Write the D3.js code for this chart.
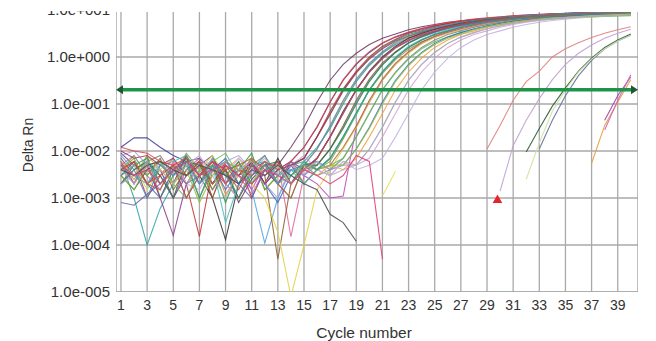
<!DOCTYPE html>
<html>
<head>
<meta charset="utf-8">
<script src="https://cdn.jsdelivr.net/npm/d3@7/dist/d3.min.js"></script>
<style>
  html, body { margin: 0; padding: 0; background: #fff; }
  svg { display: block; font-family: "Liberation Sans", Arial, sans-serif; }
</style>
</head>
<body>
<div id="chart"></div>
<script>
// amplification plot, Delta Rn vs cycle (log scale)
const cycles = [1, 2, 3, 4, 5, 6, 7, 8, 9, 10, 11, 12, 13, 14, 15, 16, 17, 18, 19, 20,
  21, 22, 23, 24, 25, 26, 27, 28, 29, 30, 31, 32, 33, 34, 35, 36, 37, 38, 39, 40];

const xTickValues = [1, 3, 5, 7, 9, 11, 13, 15, 17, 19, 21, 23, 25, 27, 29, 31, 33, 35, 37, 39];
const yTickValues = [1e-5, 1e-4, 1e-3, 1e-2, 1e-1, 1, 10];
const yTickLabels = ['1.0e-005', '1.0e-004', '1.0e-003', '1.0e-002', '1.0e-001', '1.0e+000', '1.0e+001'];

const threshold = 0.2;

// wells with a full run (cycle 1..40)
const wellValues = [
  [9e-3, 5e-3, 2e-3, 4e-3, 1e-3, 3e-3, 6e-3, 1.5e-3, 4e-3, 8e-4, 2.5e-3, 5e-3, .005, .012, .032, .11, .32, .7, 1.2, 1.85, 2.5, 3.1, 3.8, 4.4, 4.9, 5.5, 5.9, 6.3, 6.6, 6.9, 7.2, 7.4, 7.6, 7.8, 8.0, 8.1, 8.2, 8.3, 8.4, 8.5],
  [1.2e-2, 1.9e-2, 1.9e-2, 1.2e-2, 8e-3, 6e-3, 7e-3, 4e-3, 6e-3, 3e-3, 5e-3, 2e-3, 4e-3, .006, .012, .032, .11, .32, .7, 1.25, 1.95, 2.65, 3.3, 4.0, 4.6, 5.2, 5.75, 6.2, 6.6, 6.95, 7.25, 7.55, 7.8, 8.0, 8.2, 8.4, 8.55, 8.65, 8.75, 8.85],
  [6e-3, 2e-3, 8e-3, 1e-3, 3e-3, 7e-3, 2e-3, 5e-3, 8e-4, 4e-3, 9e-3, 1.5e-3, 3e-3, 5e-3, .007, .02, .063, .2, .48, .95, 1.6, 2.3, 3.0, 3.6, 4.3, 4.9, 5.5, 6.0, 6.4, 6.8, 7.1, 7.4, 7.7, 7.9, 8.1, 8.3, 8.5, 8.6, 8.7, 8.8],
  [3e-3, 6e-3, 1e-3, 3e-3, 7e-3, 2e-3, 1.5e-4, 4e-3, 2e-3, 6e-3, 1e-3, 4e-3, 2e-3, 5e-3, .007, .02, .07, .21, .5, 1.0, 1.7, 2.4, 3.2, 3.8, 4.5, 5.2, 5.8, 6.3, 6.7, 7.1, 7.5, 7.8, 8.1, 8.3, 8.5, 8.7, 8.9, 9.0, 9.1, 9.2],
  [5e-3, 2.5e-3, 6e-3, 1e-3, 4e-3, 8e-3, 2e-3, 6e-3, 1.2e-3, 3e-3, 7e-3, 2e-3, 5e-3, 3e-3, .005, .011, .032, .11, .32, .7, 1.25, 1.95, 2.65, 3.3, 4.0, 4.6, 5.2, 5.75, 6.2, 6.6, 6.95, 7.25, 7.55, 7.8, 8.0, 8.2, 8.4, 8.55, 8.65, 8.75],
  [6e-3, 1e-3, 1e-4, 6e-4, 2e-3, 5e-3, 2e-3, 7e-3, 3e-3, 1e-3, 4e-3, 8e-3, 3e-3, 5e-3, .006, .012, .03, .1, .3, .66, 1.2, 1.85, 2.5, 3.1, 3.8, 4.4, 4.9, 5.5, 5.9, 6.3, 6.6, 6.9, 7.2, 7.4, 7.6, 7.8, 8.0, 8.1, 8.2, 8.3],
  [5e-3, 8e-3, 3e-3, 1.5e-3, 6e-3, 2e-3, 5e-3, 1e-3, 6e-3, 3e-3, 1.2e-3, 4e-3, 6e-3, 1.5e-4, 3e-3, .007, .02, .063, .2, .48, .95, 1.6, 2.3, 3.0, 3.6, 4.3, 4.9, 5.5, 6.0, 6.4, 6.8, 7.1, 7.4, 7.7, 7.9, 8.1, 8.3, 8.5, 8.6, 8.7],
  [3e-3, 1.5e-3, 4e-3, 6e-3, 2e-3, 8e-3, 3e-3, 1e-3, 1.3e-4, 2e-3, 6e-3, 2e-3, 7e-3, 2e-3, 4e-3, .007, .02, .07, .2, .5, 1.0, 1.7, 2.5, 3.2, 3.9, 4.6, 5.3, 5.9, 6.4, 6.9, 7.3, 7.6, 7.9, 8.2, 8.4, 8.6, 8.8, 9.0, 9.1, 9.2],
  [8e-3, 4e-3, 6e-3, 2e-3, 5e-3, 1e-3, 3e-3, 7e-3, 2e-3, 5e-3, 1.5e-3, 1.1e-4, 1e-3, 4e-3, 3e-3, .005, .011, .032, .11, .32, .7, 1.25, 1.95, 2.65, 3.3, 4.0, 4.6, 5.2, 5.75, 6.2, 6.6, 6.95, 7.25, 7.55, 7.8, 8.0, 8.2, 8.4, 8.55, 8.65],
  [2e-3, 5e-3, 3e-3, 7e-3, 1.5e-3, 4e-3, 6e-3, 1e-3, 5e-3, 2e-3, 6e-3, 3e-3, 5e-5, 2e-3, 4e-3, .005, .011, .035, .12, .34, .75, 1.3, 2.0, 2.7, 3.4, 4.1, 4.8, 5.4, 5.9, 6.4, 6.8, 7.2, 7.5, 7.8, 8.1, 8.3, 8.5, 8.7, 8.8, 8.9],
  [7e-3, 3e-3, 5e-3, 1e-3, 1.6e-4, 2e-3, 5e-3, 8e-3, 2e-3, 1e-3, 4e-3, 6e-3, 2e-3, 5e-3, 2e-3, 4e-3, .007, .02, .063, .2, .48, .95, 1.6, 2.3, 3.0, 3.6, 4.3, 4.9, 5.5, 6.0, 6.4, 6.8, 7.1, 7.4, 7.7, 7.9, 8.1, 8.3, 8.5, 8.6],
  [4e-3, 7e-3, 2e-3, 5e-3, 3e-3, 9e-3, 4e-3, 1.5e-3, 5e-3, 3e-3, 7e-3, 1.5e-3, 3e-3, 6e-3, 2e-3, 4e-3, .006, .018, .06, .2, .45, .88, 1.45, 2.1, 2.7, 3.3, 3.9, 4.4, 5.0, 5.4, 5.8, 6.1, 6.4, 6.7, 6.9, 7.1, 7.3, 7.5, 7.6, 7.7],
  [6e-3, 2e-3, 5e-3, 3e-3, 1e-3, 4e-3, 7e-3, 2e-3, 6e-3, 4e-3, 1.5e-3, 5e-3, 3e-3, 6e-3, 3e-3, 2e-3, .001, .0011, .032, .11, .32, .7, 1.25, 1.95, 2.65, 3.3, 4.0, 4.6, 5.2, 5.75, 6.2, 6.6, 6.95, 7.25, 7.55, 7.8, 8.0, 8.2, 8.4, 8.55],
  [3e-3, 5e-3, 1.5e-3, 4e-3, 7e-3, 2e-3, 4e-3, 8e-3, 3e-3, 5e-3, 2e-3, 1e-3, 1.9e-4, 8e-6, 1e-4, 1.5e-3, .004, .011, .032, .11, .32, .7, 1.2, 1.9, 2.6, 3.2, 3.8, 4.4, 5.0, 5.5, 5.9, 6.3, 6.6, 6.9, 7.2, 7.4, 7.6, 7.8, 8.0, 8.1],
  [5e-3, 2e-3, 6e-3, 8e-3, 3e-3, 5e-3, 1e-3, 4e-3, 7e-3, 2e-3, 5e-3, 8e-3, 2e-3, 1e-3, 5e-3, 3e-3, 4e-3, .007, .02, .063, .2, .48, .95, 1.6, 2.3, 3.0, 3.6, 4.3, 4.9, 5.5, 6.0, 6.4, 6.8, 7.1, 7.4, 7.7, 7.9, 8.1, 8.3, 8.5],
  [4e-3, 8e-3, 3e-3, 6e-3, 2e-3, 1e-3, 4e-3, 6e-3, 9e-3, 3e-3, 2e-3, 6e-3, 4e-3, 2e-3, 6e-3, 4e-3, 5e-3, .007, .02, .065, .2, .46, .9, 1.5, 2.1, 2.7, 3.3, 3.9, 4.4, 4.9, 5.3, 5.7, 6.1, 6.4, 6.7, 6.9, 7.1, 7.3, 7.5, 7.6],
  [3e-3, 6e-3, 2e-3, 1e-3, 4e-3, 7e-3, 3e-3, 5e-3, 1.5e-3, 4e-3, 6e-3, 2e-3, 8e-4, 3e-3, 5e-3, 6e-3, 4e-3, .005, .011, .032, .11, .32, .7, 1.25, 1.95, 2.65, 3.3, 4.0, 4.6, 5.2, 5.75, 6.2, 6.6, 6.95, 7.25, 7.55, 7.8, 8.0, 8.2, 8.4],
  [6e-3, 3e-3, 8e-3, 4e-3, 2e-3, 6e-3, 5e-3, 2e-3, 4e-3, 7e-3, 3e-3, 5e-3, 2e-3, 6e-3, 4e-3, 3e-3, 5e-3, 4e-3, .007, .02, .063, .2, .48, .95, 1.6, 2.3, 3.0, 3.6, 4.3, 4.9, 5.5, 6.0, 6.4, 6.8, 7.1, 7.4, 7.7, 7.9, 8.1, 8.3],
  [8e-3, 1e-2, 5e-3, 6e-3, 3e-3, 5e-3, 2e-3, 4e-3, 6e-3, 8e-3, 4e-3, 2e-3, 1e-3, 5e-3, 3e-3, 6e-3, 4e-3, 5e-3, .005, .011, .032, .11, .32, .7, 1.25, 1.95, 2.65, 3.3, 4.0, 4.6, 5.2, 5.75, 6.2, 6.6, 6.95, 7.25, 7.55, 7.8, 8.0, 8.2],
  [4e-3, 2e-3, 5e-3, 3e-3, 7e-3, 2e-3, 5e-3, 6e-3, 2e-3, 1e-3, 4e-3, 7e-3, 3e-3, 5e-3, 8e-3, 4e-3, 3e-3, 6e-3, 5e-3, .007, .02, .063, .2, .48, .95, 1.6, 2.3, 3.0, 3.6, 4.3, 4.9, 5.5, 6.0, 6.4, 6.8, 7.1, 7.4, 7.7, 7.9, 8.1],
  [3e-3, 5e-3, 2e-3, 6e-3, 4e-3, 2e-3, 1.5e-3, 5e-3, 3e-3, 7e-3, 4e-3, 2e-3, 5e-3, 2e-3, 6e-3, 4e-3, 3e-3, 6e-3, 4e-3, 5e-3, .007, .02, .063, .2, .48, .95, 1.6, 2.3, 3.0, 3.6, 4.3, 4.9, 5.5, 6.0, 6.4, 6.8, 7.1, 7.4, 7.7, 7.9],
  [1e-2, 7e-3, 8e-3, 5e-3, 7e-3, 3e-3, 6e-3, 2e-3, 5e-3, 3e-3, 6e-3, 2e-3, 4e-3, 5e-3, .007, .02, .06, .19, .46, .9, 1.5, 2.2, 2.8, 3.4, 4.0, 4.6, 5.1, 5.6, 6.0, 6.4, 6.7, 7.0, 7.3, 7.5, 7.7, 7.9, 8.1, 8.2, 8.3, 8.4],
  [2e-3, 4e-3, 6e-3, 3e-3, 1e-3, 6e-3, 5e-3, 2e-3, 4e-3, 1e-3, 3e-3, 5e-3, 6e-3, 2e-3, 5e-3, .005, .011, .03, .1, .3, .68, 1.25, 2.0, 2.8, 3.5, 4.3, 5.0, 5.6, 6.2, 6.7, 7.1, 7.5, 7.8, 8.1, 8.4, 8.6, 8.8, 9.0, 9.1, 9.2],
  [5e-3, 3e-3, 2e-3, 5e-3, 6e-3, 8e-3, 3e-3, 5e-3, 3e-4, 2e-3, 5e-3, 6e-3, 3e-3, 4e-3, 2e-3, 4e-3, .007, .02, .06, .2, .5, 1.0, 1.7, 2.4, 3.1, 3.8, 4.5, 5.1, 5.7, 6.2, 6.7, 7.1, 7.4, 7.7, 8.0, 8.2, 8.4, 8.6, 8.7, 8.8],
  [4e-3, 6e-3, 2e-3, 1.5e-3, 5e-3, 3e-3, 6e-3, 2e-3, 4e-3, 5e-3, 7e-3, 4e-3, 2e-3, 1e-3, 5e-3, 4e-3, .005, .012, .034, .12, .34, .74, 1.3, 2.05, 2.8, 3.5, 4.2, 4.8, 5.5, 6.0, 6.5, 6.9, 7.3, 7.6, 7.9, 8.2, 8.4, 8.6, 8.8, 9.0],
  [8e-4, 7e-4, 1.2e-3, 2e-3, 4e-3, 2e-3, 3e-3, 6e-3, 3e-3, 2e-3, 1e-3, 4e-3, 2e-3, 6e-3, 4e-3, .007, .02, .063, .2, .47, .92, 1.55, 2.2, 2.9, 3.5, 4.1, 4.7, 5.2, 5.7, 6.1, 6.5, 6.8, 7.1, 7.3, 7.5, 7.7, 7.9, 8.0, 8.1, 8.2],
  [3e-3, 1.5e-3, 5e-3, 6e-3, 2e-3, 4e-3, 8e-4, 3e-3, 6e-3, 4e-3, 2e-3, 5e-3, 2e-3, 3e-3, 5e-3, 4e-3, 5e-3, .005, .011, .03, .1, .3, .66, 1.2, 1.85, 2.5, 3.1, 3.8, 4.4, 4.9, 5.5, 5.9, 6.3, 6.6, 6.9, 7.2, 7.4, 7.6, 7.8, 8.0],
  [1.2e-2, 1e-2, 9e-3, 6e-3, 5e-3, 7e-3, 3e-3, 6e-3, 2e-3, 4e-3, 3e-3, 6e-3, 4e-3, .006, .012, .033, .11, .33, .72, 1.3, 2.0, 2.7, 3.4, 4.1, 4.8, 5.4, 5.9, 6.4, 6.8, 7.2, 7.5, 7.8, 8.0, 8.2, 8.4, 8.6, 8.7, 8.8, 8.9, 9.0],
  [2e-3, 4e-3, 1e-3, 5e-3, 3e-3, 6e-3, 2e-3, 4e-3, 7e-3, 2e-3, 3e-3, 5e-3, 2e-3, 4e-3, .005, .011, .035, .12, .34, .74, 1.3, 2.05, 2.8, 3.5, 4.2, 4.8, 5.5, 6.0, 6.5, 6.9, 7.3, 7.6, 7.9, 8.2, 8.4, 8.6, 8.8, 9.0, 9.1, 9.2],
  [4e-3, 6e-3, 2e-3, 3e-3, 5e-3, 1e-3, 3e-3, 6e-3, 4e-3, 1.5e-3, 5e-3, 3e-3, 6e-3, 2e-3, 4e-3, .007, .02, .065, .2, .48, .95, 1.6, 2.3, 3.0, 3.6, 4.3, 4.9, 5.5, 6.0, 6.4, 6.8, 7.1, 7.4, 7.7, 7.9, 8.1, 8.3, 8.5, 8.6, 8.7],
  [3e-3, 5e-3, 7e-3, 2e-3, 4e-3, 6e-3, 1e-3, 5e-3, 3e-3, 6e-3, 2e-3, 4e-3, 5e-3, 3e-3, 6e-3, 4e-3, .007, .02, .065, .2, .48, .95, 1.6, 2.3, 3.0, 3.6, 4.3, 4.9, 5.5, 6.0, 6.4, 6.8, 7.1, 7.4, 7.7, 7.9, 8.1, 8.3, 8.5, 8.6],
  [2e-3, 3e-3, 6e-3, 4e-3, 2e-3, 5e-3, 8e-3, 3e-3, 1e-3, 4e-3, 6e-3, 3e-3, 5e-3, 2e-3, 4e-3, 6e-3, 3e-3, 4e-3, .005, .011, .032, .11, .32, .7, 1.25, 1.95, 2.65, 3.3, 4.0, 4.6, 5.2, 5.75, 6.2, 6.6, 6.95, 7.25, 7.55, 7.8, 8.0, 8.2]
];
const wellColors = ['#6b2f5f', '#3a3a9a', '#2a9a4a', '#c03030', '#e08a2a', '#2aa0a0', '#e060a0',
  '#303030', '#50a0e0', '#8a5a2a', '#8a3a8a', '#8a9a3a', '#c040c0', '#e0d040', '#808080',
  '#60c060', '#3a6ac0', '#f0a040', '#a0a0e0', '#d0a0d0', '#c0b0e0', '#a03060', '#2a7a3a',
  '#40c0c0', '#b06030', '#6060b0', '#90c040', '#e04040', '#4a8ac0', '#d04040', '#30a070',
  '#b0b0b0'];

// wells only drawn over part of the run (values missing elsewhere)
const partialStarts = [1, 1, 21, 29, 30, 32, 33, 32, 37, 38, 38];
const partialValues = [
  [4e-3, 3e-3, 5e-3, 6e-3, 4e-3, 3e-3, 5e-3, 4e-3, 3e-3, 2e-3, 4e-3, 3e-3, 5e-3, 3e-3, 2e-3, 1.5e-3, 4.5e-4, 3e-4, 1.2e-4],
  [5e-3, 3e-3, 4e-3, 2e-3, 4e-3, 6e-3, 3e-3, 4e-3, 5e-3, 3e-3, 2e-3, 4e-3, 3e-3, 2e-3, 4e-3, 3e-3, 2e-3, 3e-3, 8e-3, 6e-3, 5e-5],
  [1.1e-3, 3.7e-3],
  [.011, .035, .12, .3, .5, 1.0, 1.5, 2.0, 2.6, 3.2, 3.8, 4.4],
  [1.4e-3, .013, .045, .13, .33, .7, 1.2, 1.8, 2.5, 3.2, 3.9],
  [.0095, .03, .09, .22, .5, .95, 1.6, 2.3, 3.1],
  [.011, .045, .15, .4, .85, 1.5, 2.2, 2.9],
  [.0025, .015, .07, .2, .48, .9, 1.5, 2.2, 2.9],
  [.0055, .035, .11, .33],
  [.045, .15, .38],
  [.028, .12, .42]
];
const partialColors = ['#505050', '#e04080', '#e8e060', '#e08080', '#c0a0d0', '#2a5a3a',
  '#6070a0', '#d0e0a0', '#e0a040', '#a040a0', '#d060c0'];

const markerCycles = [29.8];
const markerValues = [9e-4];

const width = 656;
const height = 341;
const plot = { left: 116, right: 638, top: 10, bottom: 292 };

const svg = d3.select('#chart')
  .append('svg')
  .attr('width', width)
  .attr('height', height);

const defs = svg.append('defs');
defs.append('clipPath').attr('id', 'crop')
  .append('rect').attr('x', 0).attr('y', 11).attr('width', width).attr('height', height - 11);
defs.append('clipPath').attr('id', 'plotArea')
  .append('rect')
  .attr('x', plot.left).attr('y', 12)
  .attr('width', plot.right - plot.left).attr('height', plot.bottom - 12);

const root = svg.append('g').attr('clip-path', 'url(#crop)');

const x = d3.scaleLinear().domain([0.62, 40.55]).range([plot.left, plot.right]);
const y = d3.scaleLog().domain([1e-5, 10]).range([plot.bottom, plot.top]);

// grid
const grid = root.append('g').attr('clip-path', 'url(#plotArea)');
grid.selectAll('line.v')
  .data(xTickValues)
  .enter()
  .append('line')
  .attr('x1', (d) => x(d)).attr('x2', (d) => x(d))
  .attr('y1', plot.top).attr('y2', plot.bottom)
  .attr('stroke', '#a9a9a9').attr('stroke-width', 1.3);
grid.selectAll('line.h')
  .data(yTickValues)
  .enter()
  .append('line')
  .attr('x1', plot.left).attr('x2', plot.right)
  .attr('y1', (d) => y(d)).attr('y2', (d) => y(d))
  .attr('stroke', '#a9a9a9').attr('stroke-width', 1.3);
// frame (left, right, bottom)
grid.append('path')
  .attr('d', `M${plot.left},${plot.top}V${plot.bottom}H${plot.right}V${plot.top}`)
  .attr('fill', 'none').attr('stroke', '#a9a9a9').attr('stroke-width', 1.5);

// curves
const line = d3.line()
  .defined((d) => d.v != null && d.v > 0)
  .x((d) => x(d.c))
  .y((d) => y(d.v));

const curves = root.append('g').attr('clip-path', 'url(#plotArea)');

wellValues.forEach((vals, i) => {
  curves.append('path')
    .datum(vals.map((v, k) => ({ c: cycles[k], v })))
    .attr('d', line)
    .attr('fill', 'none')
    .attr('stroke', wellColors[i])
    .attr('stroke-width', 1.1)
    .attr('stroke-opacity', 0.85);
});

partialValues.forEach((vals, i) => {
  curves.append('path')
    .datum(vals.map((v, k) => ({ c: cycles[partialStarts[i] - 1 + k], v })))
    .attr('d', line)
    .attr('fill', 'none')
    .attr('stroke', partialColors[i])
    .attr('stroke-width', 1.1)
    .attr('stroke-opacity', 0.9);
});

// threshold with arrow ends
const ty = y(threshold);
root.append('line')
  .attr('x1', plot.left + 4).attr('x2', plot.right - 4)
  .attr('y1', ty).attr('y2', ty)
  .attr('stroke', '#1e9448').attr('stroke-width', 3.5);
root.append('path')
  .attr('d', `M${plot.left},${ty}l7,-4.5v9Z`)
  .attr('fill', '#1d5a32');
root.append('path')
  .attr('d', `M${plot.right},${ty}l-7,-4.5v9Z`)
  .attr('fill', '#1d5a32');

// red marker
root.selectAll('path.marker')
  .data(markerCycles)
  .enter()
  .append('path')
  .attr('class', 'marker')
  .attr('d', d3.symbol().type(d3.symbolTriangle).size(40))
  .attr('transform', (d, i) => `translate(${x(d)},${y(markerValues[i])})`)
  .attr('fill', '#e3262e');

// tick labels
root.selectAll('text.ylab')
  .data(yTickValues)
  .enter()
  .append('text')
  .attr('x', 110)
  .attr('y', (d) => y(d) + 5)
  .attr('text-anchor', 'end')
  .attr('font-size', '15px')
  .attr('fill', '#333')
  .text((d, i) => yTickLabels[i]);

root.selectAll('text.xlab')
  .data(xTickValues)
  .enter()
  .append('text')
  .attr('x', (d) => x(d))
  .attr('y', 310)
  .attr('text-anchor', 'middle')
  .attr('font-size', '14px')
  .attr('fill', '#333')
  .text((d) => d);

root.append('text')
  .attr('x', 364)
  .attr('y', 338)
  .attr('text-anchor', 'middle')
  .attr('font-size', '15.5px')
  .attr('fill', '#333')
  .text('Cycle number');

root.append('text')
  .attr('transform', 'translate(33,145) rotate(-90)')
  .attr('text-anchor', 'middle')
  .attr('font-size', '14px')
  .attr('fill', '#333')
  .text('Delta Rn');
</script>
</body>
</html>
